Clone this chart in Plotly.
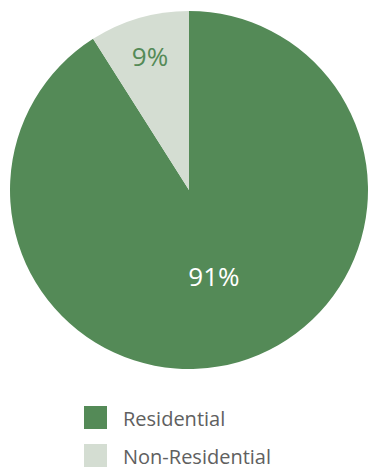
import plotly.graph_objects as go

labels = ["Residential", "Non-Residential"]
values = [91, 9]
colors = ["#548a57", "#d4ddd2"]
text_colors = ["#ffffff", "#548a57"]

W, H = 368, 471
FONT = "Open Sans"

fig = go.Figure()
fig.add_trace(go.Pie(
    labels=labels,
    values=values,
    marker=dict(colors=colors, line=dict(width=0)),
    sort=False,
    direction="clockwise",
    rotation=0,
    texttemplate="%{percent:.0%}",
    textposition="inside",
    insidetextorientation="horizontal",
    textfont=dict(family=FONT, size=26, color=text_colors),
    showlegend=False,
    hoverinfo="label+percent",
    domain=dict(x=[10 / W, 1.0], y=[1 - 370 / H, 1 - 10 / H]),
))

# Legend drawn as squares + labels built from the series lists
shapes = []
annotations = []
for i, (lab, col) in enumerate(zip(labels, colors)):
    y0 = 406 + i * 38
    shapes.append(dict(type="rect", xref="paper", yref="paper",
                       x0=84 / W, x1=107 / W,
                       y0=1 - (y0 + 23) / H, y1=1 - y0 / H,
                       fillcolor=col, line=dict(width=0)))
    annotations.append(dict(xref="paper", yref="paper", x=121 / W, y=1 - (y0 + 12) / H,
                            text=lab, showarrow=False, xanchor="left", yanchor="middle",
                            font=dict(family=FONT, size=20, color="#606060")))

fig.update_layout(
    width=W, height=H,
    margin=dict(l=0, r=0, t=0, b=0),
    paper_bgcolor="white",
    plot_bgcolor="white",
    shapes=shapes,
    annotations=annotations,
)

fig.write_html("out.html")
